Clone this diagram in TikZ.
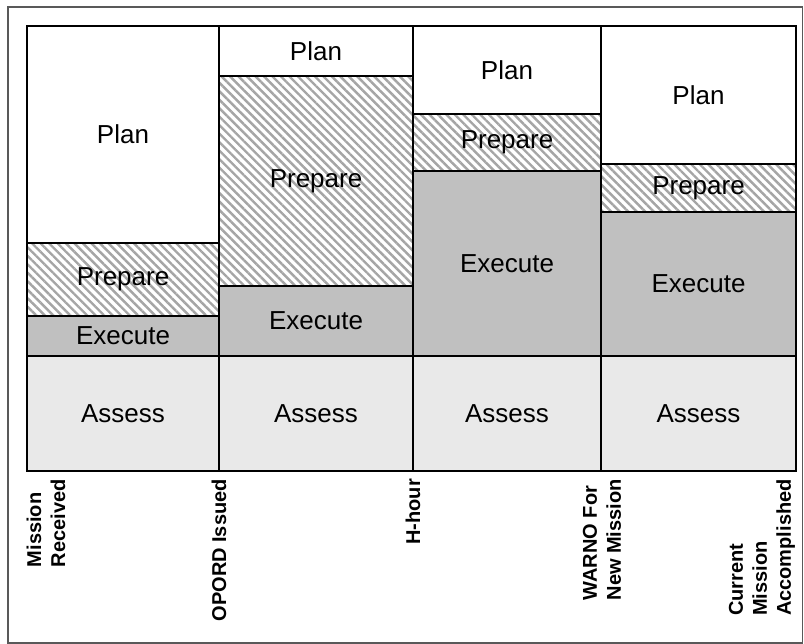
\documentclass[tikz,border=0pt]{standalone}
\usepackage{fontspec}
\setmainfont{Liberation Sans}
\usetikzlibrary{patterns.meta}
\definecolor{execgray}{RGB}{192,192,192}
\definecolor{assessgray}{RGB}{233,233,233}
\definecolor{hatchgray}{RGB}{165,165,165}
\tikzset{
  seg/.style={draw, line width=1.6pt, inner sep=0pt, font=\fontsize{26}{30}\selectfont},
  plan/.style={seg, fill=white},
  prep/.style={seg, preaction={fill=white}, pattern={Lines[angle=-45,distance=6pt,line width=2.4pt]}, pattern color=hatchgray},
  exec/.style={seg, fill=execgray},
  assess/.style={seg, fill=assessgray},
  timelabel/.style={rotate=90, anchor=east, align=left, inner sep=0pt, font=\fontsize{20}{24}\selectfont\bfseries}
}
\begin{document}
\begin{tikzpicture}[x=1pt,y=-1pt]
\useasboundingbox (0,0) rectangle (804,644);
\fill[white] (0,0) rectangle (804,644);
\draw[line width=1.3pt, black!65] (8,7) rectangle (802.5,643);
\node[plan, minimum width=192pt, minimum height=217pt] (S_1_1) at (123,134.5) {Plan};
\node[prep, minimum width=192pt, minimum height=73pt] (S_1_2) at (123,279.5) {Prepare};
\node[exec, minimum width=192pt, minimum height=40pt] (S_1_3) at (123,336) {Execute};
\node[assess, minimum width=192pt, minimum height=115pt] (S_1_4) at (123,413.5) {Assess};
\node[plan, minimum width=194pt, minimum height=50pt] (S_2_1) at (316,51) {Plan};
\node[prep, minimum width=194pt, minimum height=210pt] (S_2_2) at (316,181) {Prepare};
\node[exec, minimum width=194pt, minimum height=70pt] (S_2_3) at (316,321) {Execute};
\node[assess, minimum width=194pt, minimum height=115pt] (S_2_4) at (316,413.5) {Assess};
\node[plan, minimum width=188pt, minimum height=88pt] (S_3_1) at (507,70) {Plan};
\node[prep, minimum width=188pt, minimum height=57pt] (S_3_2) at (507,142.5) {Prepare};
\node[exec, minimum width=188pt, minimum height=185pt] (S_3_3) at (507,263.5) {Execute};
\node[assess, minimum width=188pt, minimum height=115pt] (S_3_4) at (507,413.5) {Assess};
\node[plan, minimum width=195pt, minimum height=138pt] (S_4_1) at (698.5,95) {Plan};
\node[prep, minimum width=195pt, minimum height=48pt] (S_4_2) at (698.5,188) {Prepare};
\node[exec, minimum width=195pt, minimum height=144pt] (S_4_3) at (698.5,284) {Execute};
\node[assess, minimum width=195pt, minimum height=115pt] (S_4_4) at (698.5,413.5) {Assess};
\node[timelabel] (L_0) at (46,479) {Mission\\Received};
\node[timelabel] (L_1) at (219,479) {OPORD Issued};
\node[timelabel] (L_2) at (413,479) {H-hour};
\node[timelabel] (L_3) at (602,479) {WARNO For\\New Mission};
\node[timelabel] (L_4) at (762,479) {Current\\Mission\\Accomplished};
\end{tikzpicture}
\end{document}
